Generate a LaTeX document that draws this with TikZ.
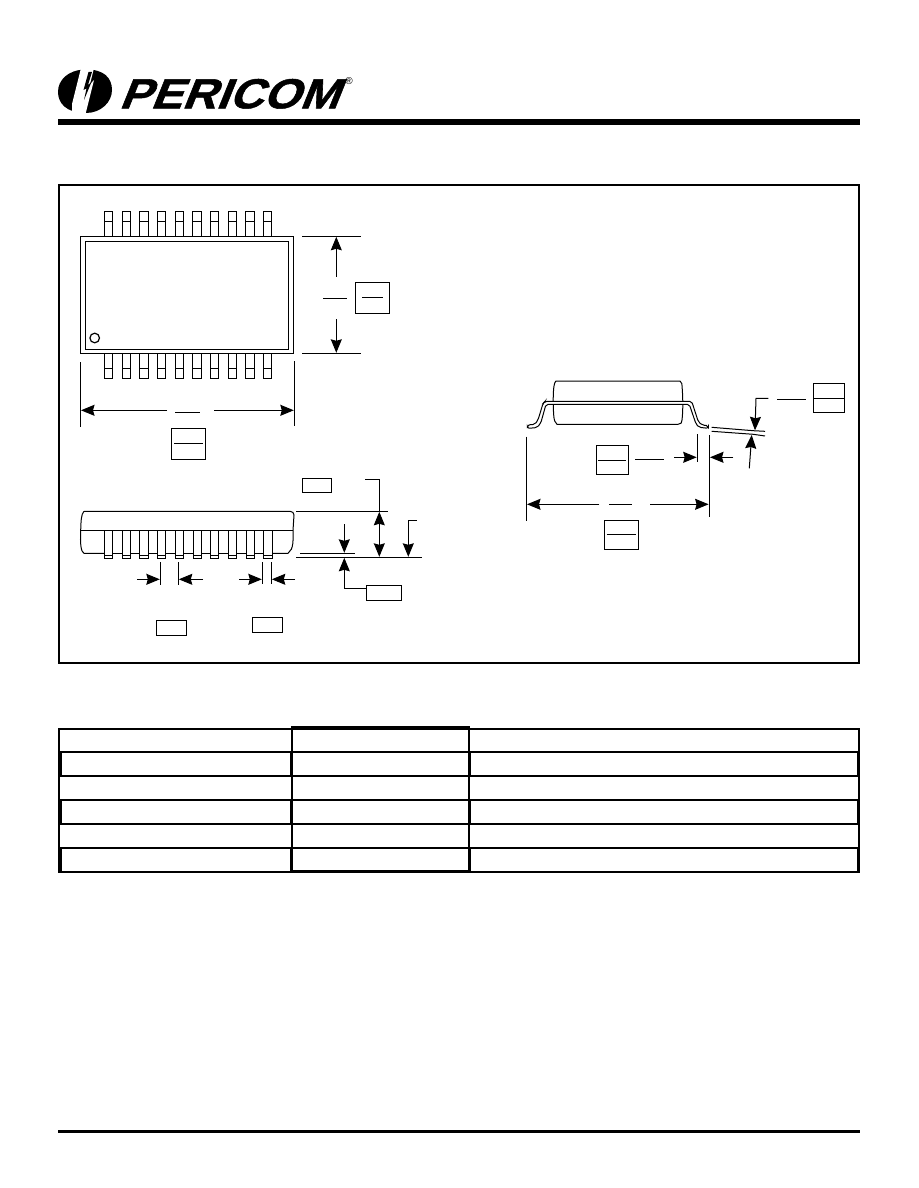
\documentclass[tikz,border=0pt]{standalone}
\usepackage{fontspec}
\setmainfont{Liberation Sans}
\newfontfamily\logofont[BoldFeatures={FakeBold=1.2}]{Liberation Sans}
\usetikzlibrary{arrows.meta}
\tikzset{
  ln/.style={line width=1pt,black,line join=miter},
  lead/.style={line width=1pt,black},
  dimarrow/.style={line width=1pt,-{Stealth[length=13.5pt,width=11pt,inset=1.5pt]}},
  dimboth/.style={line width=1pt,{Stealth[length=13.5pt,width=11pt,inset=1.5pt]}-{Stealth[length=13.5pt,width=11pt,inset=1.5pt]}},
  rule/.style={line width=0pt,fill=black,draw=none},
  frm/.style={line width=1.9pt,black},
  tbl/.style={line width=1.9pt,black},
  tblthick/.style={line width=3pt,black},
  logotext/.style={font=\logofont\fontsize{42}{42}\selectfont\bfseries,inner sep=0pt,xscale=1.12,xslant=0.36,transform shape},
}
\newcommand{\pinrow}[3]{%
  \foreach \l/\r in {104.3/112.7,122.3/130.7,139.3/148.7,157.3/165.7,175.3/183.7,192.3/201.7,210.3/218.7,228.3/236.7,245.7/254.7,263.3/271.7}{
    \draw[lead] (\l,#1) rectangle (\r,#2);
    \draw[lead] (\l,#3) -- (\r,#3);
  }
}
\begin{document}
\begin{tikzpicture}[x=1pt,y=-1pt]
\useasboundingbox (0,0) rectangle (918,1188);
\fill[white] (0,0) rectangle (918,1188);

% ---- logo ----
\fill[black] (85,69.5) .. controls (104,69) and (112,78) .. (112,90)
  .. controls (112,102) and (101,113) .. (86,113)
  .. controls (66,113) and (58,103) .. (58,92)
  .. controls (58,80) and (68,70) .. (85,69.5) -- cycle;
\fill[white] (81,68) -- (94,68) -- (90,84) -- (94,80) -- (85.5,114) -- (72,114) -- (72,104) -- cycle;
\fill[black] (88.5,72) -- (92,72) -- (88,85) -- (91.5,82) -- (84,100) -- (86.5,88.5) -- (83.5,90) -- cycle;
\node[logotext,anchor=base west] (brand) at (118.5,108.3) {PERICOM};
\node[font=\fontsize{10}{10}\selectfont,inner sep=0pt] (reg) at (349,81) {®};
\fill[rule] (58,119.5) rectangle (860,124.7);
\fill[rule] (58,1130) rectangle (860,1132.8);

% ---- frame ----
\draw[frm] (59,185) rectangle (859,663);

% ---- top view ----
\pinrow{211.3}{236.3}{221.3}
\pinrow{353.3}{378.7}{368.3}
\draw[ln,fill=white] (80.3,236.3) rectangle (293.3,353.3);
\draw[ln] (85.3,241) rectangle (288.7,349.3);
\draw[line width=1.2pt] (94.7,338) circle (4.8);
% height dim
\draw[ln] (302,236.3) -- (360.7,236.3);
\draw[ln] (302,353.3) -- (360.7,353.3);
\draw[dimarrow] (336.3,276.7) -- (336.3,236.8);
\draw[dimarrow] (336.3,319) -- (336.3,352.8);
\draw[ln] (323,298.3) -- (346.7,298.3);
\draw[ln] (355.3,282.3) rectangle (389.7,313.3);
\draw[ln] (362,297.3) -- (383,297.3);
% width dim
\draw[ln] (80.3,362) -- (80.3,426.7);
\draw[ln] (294.3,361) -- (294.3,425.7);
\draw[dimarrow] (167,410.3) -- (81,410.3);
\draw[dimarrow] (214,410.3) -- (293.8,410.3);
\draw[ln] (175,412.3) -- (200,412.3);
\draw[ln] (171.3,428.3) rectangle (205.7,459.3);
\draw[ln] (174,443.3) -- (203,443.3);

% ---- side view ----
\foreach \l/\r in {104.3/112.7,122.3/130.7,139.3/148,157.3/165.7,175.3/183.7,193.3/201.7,210.3/218.7,228.3/236.7,246.3/254.7,263.3/272.3}{
  \draw[lead] (\l,530.3) rectangle (\r,558.3);
  \draw[lead] (\l,555.3) -- (\r,555.3);
}
\draw[ln] (84,511.3) -- (290,511.3)
  .. controls (293,511.3) and (293.5,513) .. (294,515)
  -- (293,530.3)
  .. controls (293,540) and (294,549) .. (288,553.3)
  -- (272.3,553.3);
\draw[ln] (263.3,553.3) -- (254.7,553.3);
\draw[ln] (246.3,553.3) -- (236.7,553.3);
\draw[ln] (228.3,553.3) -- (218.7,553.3);
\draw[ln] (210.3,553.3) -- (201.7,553.3);
\draw[ln] (193.3,553.3) -- (183.7,553.3);
\draw[ln] (175.3,553.3) -- (165.7,553.3);
\draw[ln] (157.3,553.3) -- (148,553.3);
\draw[ln] (139.3,553.3) -- (130.7,553.3);
\draw[ln] (122.3,553.3) -- (112.7,553.3);
\draw[ln] (104.3,553.3) -- (84,553.3)
  .. controls (81,552) and (80,544) .. (80.7,530.3)
  .. controls (81,522) and (81,514) .. (84,511.3);
\draw[ln] (80.7,530.3) -- (293,530.3);
\draw[ln] (296,511.3) -- (388,511.3);
\draw[ln] (296,557.3) -- (422,557.3);
\draw[ln] (300.3,553.3) -- (355,553.3);
\draw[dimarrow] (344.3,524) -- (344.3,552.8);
\draw[dimarrow] (366.3,588.3) -- (344.3,588.3) -- (344.3,557.8);
\draw[ln] (366.3,585.3) rectangle (401.7,600.3);
\draw[ln] (365.3,479.3) -- (379.3,479.3) -- (379.3,511.8);
\draw[dimboth] (379.3,511.8) -- (379.3,556.8);
\draw[ln] (302.3,478.3) rectangle (331.7,492.3);
\draw[dimarrow] (416.7,520.3) -- (408.3,520.3) -- (408.3,556.8);
% lead dims
\draw[ln] (160.3,562) -- (160.3,585);
\draw[ln] (178.3,562) -- (178.3,585);
\draw[dimarrow] (137.3,579.3) -- (159.8,579.3);
\draw[dimarrow] (203,579.3) -- (178.8,579.3);
\draw[ln] (262.3,562) -- (262.3,584);
\draw[ln] (271.3,562) -- (271.3,584);
\draw[dimarrow] (239,579.3) -- (261.8,579.3);
\draw[dimarrow] (295,579.3) -- (271.8,579.3);
\draw[ln] (156.3,620.3) rectangle (186.7,635.3);
\draw[ln] (252.3,617.3) rectangle (282.7,632.3);

% ---- end view ----
\draw[ln] (556,381) -- (680,381)
  .. controls (682,382) and (682,384) .. (682.3,390)
  .. controls (683,400) and (683,412) .. (682,420)
  .. controls (682,423) and (681,424) .. (678,424.3)
  -- (557,424.3)
  .. controls (555,423) and (554,420) .. (553.7,415)
  .. controls (553,405) and (553,392) .. (554,386)
  .. controls (554.5,383) and (555,382) .. (556,381) -- cycle;
\draw[lead,fill=white,rounded corners=2pt] (527.3,428.3) -- (527.3,425) -- (535,424.3) -- (538,420) -- (543,403.5) -- (545,401.3)
  -- (691.7,401.3) -- (698.3,421.7) -- (702,425) -- (708.3,425.7) -- (708.3,428.3) -- (699,427.3) -- (696,424)
  -- (689.3,404.3) -- (546,404.3) -- (540.7,423.3) -- (536.7,427.7) -- cycle;
\draw[ln] (711.7,427.3) -- (753.3,430.7) -- (765,431.3);
\draw[ln] (711.7,431.3) -- (753.3,434.3) -- (765,436);
\draw[ln] (526.3,436.7) -- (526.3,520.7);
\draw[ln] (709.3,435) -- (709.3,517.3);
\draw[ln] (697.3,434) -- (697.3,461.7);
\draw[dimarrow] (599.3,504.3) -- (527,504.3);
\draw[dimarrow] (650,504.3) -- (708.6,504.3);
\draw[ln] (609,504.3) -- (632,504.3);
\draw[ln] (604.3,520.3) rectangle (638.7,549);
\draw[ln] (606.7,534.3) -- (636,534.3);
\draw[ln] (596.7,445.3) rectangle (628.7,474.7);
\draw[ln] (598,460.3) -- (626,460.3);
\draw[ln] (635,459.3) -- (664,459.3);
\draw[dimarrow] (674,457.3) -- (696.7,457.3);
\draw[dimarrow] (733.3,457.3) -- (710,457.3);
\draw[dimarrow] (768.3,398.3) -- (756,398.3) -- (755,430.3);
\draw[dimarrow] (749.3,468.3) -- (751.7,435);
\draw[ln] (777.3,399.3) -- (806,399.3);
\draw[ln] (813.3,383.3) rectangle (844.3,412.7);
\draw[ln] (813.3,398.3) -- (844.3,398.3);

% ---- table ----
\draw[tbl] (59.3,729) rectangle (859,871.7);
\foreach \y in {752,775.7,799.7,823.7,847.7}{\draw[tbl] (59.3,\y) -- (859,\y);}
\draw[tbl] (291.7,729) -- (291.7,871.7);
\draw[tbl] (469,729) -- (469,871.7);
\draw[tblthick] (291,727.8) -- (469.5,727.8);
\draw[tbl] (291,870.6) -- (469.5,870.6);
\foreach \a/\b in {752/775.7,799.7/823.7,847.7/871.7}{
  \draw[tblthick] (60,\a) -- (60,\b);
  \draw[tblthick] (291.2,\a) -- (291.2,\b);
  \draw[tblthick] (469.5,\a) -- (469.5,\b);
  \draw[tblthick] (858.5,\a) -- (858.5,\b);
}
\end{tikzpicture}
\end{document}
